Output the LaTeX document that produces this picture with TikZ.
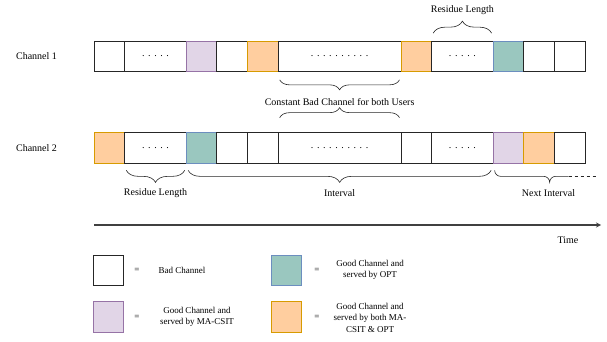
\documentclass[tikz,border=0pt]{standalone}
\usepackage{fontspec}
\setmainfont{Liberation Serif}
\usepackage{tikz}
\usetikzlibrary{positioning,calc,decorations.pathreplacing}

\definecolor{macfill}{HTML}{E1D5E7}
\definecolor{macline}{HTML}{9673A6}
\definecolor{optfill}{HTML}{9AC7BF}
\definecolor{optline}{HTML}{6C8EBF}
\definecolor{bothfill}{HTML}{FFCE9F}
\definecolor{bothline}{HTML}{D79B00}

\newcommand{\fivedots}{.\hspace{3.6pt}.\hspace{3.6pt}.\hspace{3.6pt}.\hspace{3.6pt}.}
\newcommand{\tendots}{\fivedots\hspace{3.6pt}\fivedots}

\tikzset{
  cell/.style={draw=black!85, line width=0.8pt, fill=white, minimum width=30.7pt,
    minimum height=30.7pt, inner sep=0pt, outer sep=0pt, font=\fontsize{10}{12}\selectfont},
  wcell/.style={cell, minimum width=61.4pt},
  lcell/.style={cell, minimum width=122.8pt},
  mac/.style={cell, fill=macfill, draw=macline},
  opt/.style={cell, fill=optfill, draw=optline},
  both/.style={cell, fill=bothfill, draw=bothline},
  lbl/.style={font=\fontsize{10}{12}\selectfont, inner sep=1pt},
  key/.style={font=\fontsize{9}{11.5}\selectfont, align=center, inner sep=1pt},
  brc/.style={decorate, decoration={brace, amplitude=#1}, draw=black!85, line width=0.6pt},
  brc/.default=12pt
}

\begin{document}
\begin{tikzpicture}[x=1pt,y=1pt,>=stealth]
  \useasboundingbox (0,0) rectangle (607,341);
  % channel 1
  \node[cell]  at (109.5,284.5) (c1a) {};
  \node[wcell] at (155.5,284.5) (c1b) {\fivedots};
  \node[mac]   at (201.5,284.5) (c1c) {};
  \node[cell]  at (232.2,284.5) (c1d) {};
  \node[both]  at (262.9,284.5) (c1e) {};
  \node[lcell] at (339.6,284.5) (c1f) {\tendots};
  \node[both]  at (416.4,284.5) (c1g) {};
  \node[wcell] at (462.4,284.5) (c1h) {\fivedots};
  \node[opt]   at (508.5,284.5) (c1i) {};
  \node[cell]  at (539.2,284.5) (c1j) {};
  \node[cell]  at (569.9,284.5) (c1k) {};
  \node[lbl, left=36pt of c1a] (ch1) {Channel 1};
  % channel 2
  \node[both]  at (109.5,193) (c2a) {};
  \node[wcell] at (155.5,193) (c2b) {\fivedots};
  \node[opt]   at (201.5,193) (c2c) {};
  \node[cell]  at (232.2,193) (c2d) {};
  \node[cell]  at (262.9,193) (c2e) {};
  \node[lcell] at (339.6,193) (c2f) {\tendots};
  \node[cell]  at (416.4,193) (c2g) {};
  \node[wcell] at (462.4,193) (c2h) {\fivedots};
  \node[mac]   at (508.5,193) (c2i) {};
  \node[both]  at (539.2,193) (c2j) {};
  \node[cell]  at (569.9,193) (c2k) {};
  \node[lbl, left=36pt of c2a] (ch2) {Channel 2};
  % braces
  \draw[brc] ([xshift=1.5pt,yshift=8pt]c1h.north west) -- ([xshift=-1.5pt,yshift=8pt]c1h.north east);
  \node[lbl] at ([yshift=31pt]c1h.north) (res1) {Residue Length};
  \draw[brc=10pt] ([xshift=-1.5pt,yshift=-8pt]c1f.south east) -- ([xshift=1.5pt,yshift=-8pt]c1f.south west);
  \node[lbl] at ([yshift=-30pt]c1f.south) (cbc) {Constant Bad Channel for both Users};
  \draw[brc=10pt] ([xshift=1.5pt,yshift=15pt]c2f.north west) -- ([xshift=-1.5pt,yshift=15pt]c2f.north east);
  \draw[brc] ([xshift=-1.5pt,yshift=-7pt]c2b.south east) -- ([xshift=1.5pt,yshift=-7pt]c2b.south west);
  \node[lbl] at ([yshift=-30pt]c2b.south) (res2) {Residue Length};
  \draw[brc] ([xshift=-2pt,yshift=-7pt]c2i.south west) -- ([xshift=2pt,yshift=-7pt]c2c.south west);
  \node[lbl] at ($(c2c.south west)!0.5!(c2i.south west)+(0,-30)$) (intv) {Interval};
  \draw[draw=black!85, line width=0.6pt] ([xshift=1.5pt,yshift=-7pt]c2i.south west)
    arc[start angle=180, end angle=270, radius=6] -- ++(43,0)
    arc[start angle=90, end angle=0, radius=6]
    arc[start angle=180, end angle=90, radius=6] -- ++(13,0) coordinate (nx);
  \draw[draw=black!85, line width=0.6pt, dashed] (nx) -- ++(30,0);
  \node[lbl] at ([xshift=40pt,yshift=-30pt]c2i.south) (next) {Next Interval};
  % time axis
  \coordinate (t0) at (94,116);
  \coordinate (t1) at (601,116);
  \draw[->, draw=black!75, line width=1.2pt] (t0) -- (t1);
  \node[lbl] at (568,101) (time) {Time};
  % legend
  \node[cell] at (108.5,70.5) (kbad) {};
  \node[key]  at (137,70.5) (ebad) {=};
  \node[key]  at (182,70.5) (tbad) {Bad Channel};
  \node[opt]  at (286.5,70.5) (kopt) {};
  \node[key]  at (317,70.5) (eopt) {=};
  \node[key]  at (370,71) (topt) {Good Channel and\\served by OPT};
  \node[mac]  at (108.5,24) (kmac) {};
  \node[key]  at (137,24) (emac) {=};
  \node[key]  at (197,24) (tmac) {Good Channel and\\served by MA-CSIT};
  \node[both] at (286.5,24) (kboth) {};
  \node[key]  at (317,24) (eboth) {=};
  \node[key]  at (370,23.5) (tboth) {Good Channel and\\served by both MA-\\CSIT \& OPT};
\end{tikzpicture}
\end{document}
